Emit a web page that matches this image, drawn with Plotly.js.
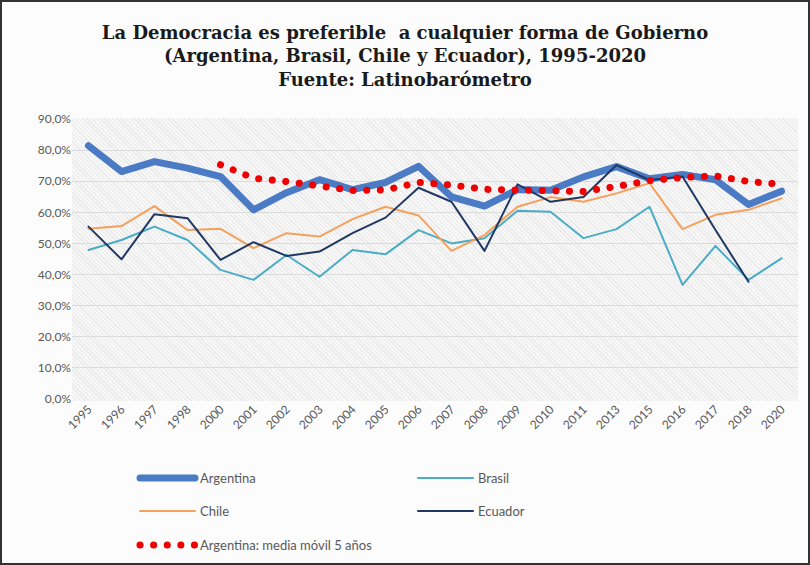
<!DOCTYPE html>
<html>
<head>
<meta charset="utf-8">
<script src="https://cdn.plot.ly/plotly-3.0.1.min.js"></script>
<style>
  html, body { margin: 0; padding: 0; background: #fcfcfc; }
  #wrap { position: relative; width: 810px; height: 565px; overflow: hidden; }
  #hatch { position: absolute; left: 72px; top: 118px; width: 726px; height: 283px;
    background: repeating-linear-gradient(45deg, #e9e9e9 0px, #e9e9e9 1px, #f7f7f7 1px, #f7f7f7 3px); }
  #chart { position: absolute; left: 0; top: 0; width: 810px; height: 565px; }
  #frame { position: absolute; left: 0; top: 0; width: 810px; height: 565px; box-sizing: border-box;
    border: 2px solid #333; pointer-events: none; }
  .scatterlayer path.js-line, .legendlines path { stroke-linecap: round; stroke-linejoin: round; }
</style>
</head>
<body>
<div id="wrap">
  <div id="hatch"></div>
  <div id="chart"></div>
  <div id="frame"></div>
</div>
<script>
const years = ['1995','1996','1997','1998','2000','2001','2002','2003','2004','2005','2006','2007','2008','2009','2010','2011','2013','2015','2016','2017','2018','2020'];
const argentina = [81.4,73.1,76.3,74.2,71.5,60.8,66.3,70.5,67.3,69.6,74.8,65.0,62.0,67.3,67.1,71.4,74.7,70.8,72.2,70.5,62.5,66.8];
const brasil = [47.9,51.1,55.4,51.1,41.5,38.3,46.3,39.3,47.9,46.5,54.3,50.0,51.7,60.5,60.2,51.7,54.6,61.8,36.7,49.2,38.3,45.2];
const chile = [54.7,55.6,62.0,54.3,54.7,48.5,53.3,52.2,57.8,61.8,59.0,47.6,52.7,61.8,64.9,63.4,66.1,69.4,54.6,59.2,60.8,64.5];
const ecuador = [55.4,44.9,59.4,58.1,44.7,50.4,46.0,47.4,53.3,58.3,67.9,63.4,47.6,69.0,63.4,64.9,75.2,70.4,71.5,54.3,37.7,null];
const mediaMovil = [null,null,null,null,75.3,71.0,69.9,68.5,67.0,67.2,69.6,68.8,67.4,67.2,66.9,66.7,68.3,70.2,71.2,71.7,69.9,69.0];
const yTicks = [0,10,20,30,40,50,60,70,80,90];
const yTickText = yTicks.map(v => v.toFixed(1).replace('.', ',') + '%');

const textColor = '#595959';
const legendFont = {family: 'Lato, "Open Sans", sans-serif', size: 13, color: textColor};

const traces = [
  {x: years, y: argentina, name: 'Argentina', type: 'scatter', mode: 'lines',
   line: {color: '#4a7bc4', width: 7}, legend: 'legend'},
  {x: years, y: brasil, name: 'Brasil', type: 'scatter', mode: 'lines',
   line: {color: '#4bacc6', width: 2}, legend: 'legend'},
  {x: years, y: chile, name: 'Chile', type: 'scatter', mode: 'lines',
   line: {color: '#f4a15d', width: 2}, legend: 'legend2'},
  {x: years, y: ecuador, name: 'Ecuador', type: 'scatter', mode: 'lines',
   line: {color: '#1f3864', width: 2}, legend: 'legend2'},
  {x: years, y: mediaMovil, name: 'Argentina: media móvil 5 años', type: 'scatter', mode: 'lines',
   line: {color: '#ee0000', width: 7, dash: '0.1px,13.5px'}, legend: 'legend3'}
];

function legendCfg(yPix) {
  return {
    orientation: 'h', xref: 'container', yref: 'container',
    x: 135/810, xanchor: 'left', y: 1 - yPix/565, yanchor: 'middle',
    entrywidth: 208, entrywidthmode: 'pixels', itemwidth: 55,
    font: legendFont, bgcolor: 'rgba(0,0,0,0)', traceorder: 'normal'
  };
}

const layout = {
  width: 810, height: 565,
  paper_bgcolor: 'rgba(0,0,0,0)', plot_bgcolor: 'rgba(0,0,0,0)',
  separators: ',.',
  margin: {l: 72, r: 12, t: 119, b: 166},
  title: {
    text: 'La Democracia es preferible  a cualquier forma de Gobierno<br>(Argentina, Brasil, Chile y Ecuador), 1995-2020<br>Fuente: Latinobarómetro',
    font: {family: '"DejaVu Serif", serif', size: 18, color: '#1a1a1a', weight: 'bold'},
    x: 0.5, xanchor: 'center', y: 1 - 39/565, yanchor: 'middle', yref: 'container'
  },
  xaxis: {
    type: 'category', range: [-0.5, years.length - 0.5], tickangle: -45,
    showgrid: false, zeroline: false, showline: false,
    ticks: '', tickfont: {family: 'Lato, "Open Sans", sans-serif', size: 12, color: textColor},
    fixedrange: true
  },
  yaxis: {
    range: [0, 90], tickvals: yTicks, ticktext: yTickText,
    showgrid: true, gridcolor: '#dcdcdc', gridwidth: 1, zeroline: false, showline: false,
    ticks: '', tickfont: {family: 'Lato, "Open Sans", sans-serif', size: 12, color: textColor},
    fixedrange: true
  },
  showlegend: true,
  legend: legendCfg(478),
  legend2: legendCfg(511),
  legend3: legendCfg(545)
};

Plotly.newPlot('chart', traces, layout, {displayModeBar: false, staticPlot: true});
</script>
</body>
</html>
